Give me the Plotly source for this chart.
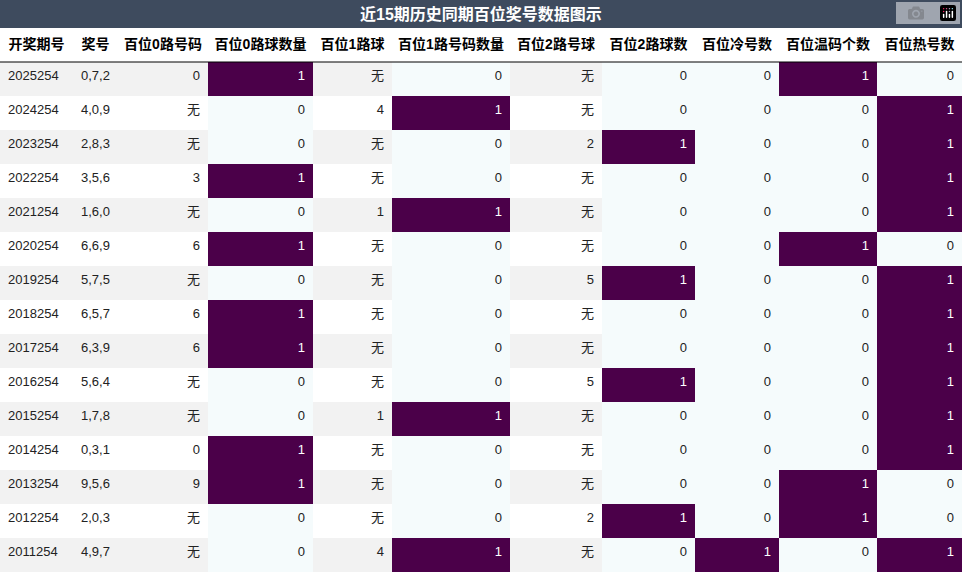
import plotly.graph_objects as go

title = "近15期历史同期百位奖号数据图示"
headers = ["开奖期号","奖号","百位0路号码","百位0路球数量","百位1路球","百位1路号码数量","百位2路号球","百位2路球数","百位冷号数","百位温码个数","百位热号数"]
periods = ["2025254","2024254","2023254","2022254","2021254","2020254","2019254","2018254","2017254","2016254","2015254","2014254","2013254","2012254","2011254"]
numbers = ["0,7,2","4,0,9","2,8,3","3,5,6","1,6,0","6,6,9","5,7,5","6,5,7","6,3,9","5,6,4","1,7,8","0,3,1","9,5,6","2,0,3","4,9,7"]
r0_num = ["0","无","无","3","无","6","无","6","6","无","无","0","9","无","无"]
r0_cnt = [1,0,0,1,0,1,0,1,1,0,0,1,1,0,0]
r1_num = ["无","4","无","无","1","无","无","无","无","无","1","无","无","无","4"]
r1_cnt = [0,1,0,0,1,0,0,0,0,0,1,0,0,0,1]
r2_num = ["无","无","2","无","无","无","5","无","无","5","无","无","无","2","无"]
r2_cnt = [0,0,1,0,0,0,1,0,0,1,0,0,0,1,0]
cold = [0,0,0,0,0,0,0,0,0,0,0,0,0,0,1]
warm = [1,0,0,0,0,1,0,0,0,0,0,0,1,1,0]
hot = [0,1,1,1,1,0,1,1,1,1,1,1,0,0,1]

cols = [periods, numbers, r0_num, r0_cnt, r1_num, r1_cnt, r2_num, r2_cnt, cold, warm, hot]
is_count = [False,False,False,True,False,True,False,True,True,True,True]
widths = [73,45,90,105,79,118,92,93,84,98,85]
PURPLE = "#4b0049"
LIGHT = "#f5fbfc"
stripe = ["#f2f2f2" if i % 2 == 0 else "#ffffff" for i in range(len(periods))]

fills, fcolors = [], []
for c, cnt in zip(cols, is_count):
    if cnt:
        fills.append([PURPLE if v == 1 else LIGHT for v in c])
        fcolors.append(["white" if v == 1 else "#222" for v in c])
    else:
        fills.append(stripe)
        fcolors.append(["#222"] * len(c))

H, W = 574, 962
fig = go.Figure(go.Table(
    columnwidth=widths,
    domain=dict(x=[0, 1], y=[0, 1 - 28 / H]),
    header=dict(values=[f"<b>{h}</b>" for h in headers], height=34, fill_color="white",
                line=dict(width=0, color="white"), align="center",
                font=dict(family="Liberation Sans, Noto Sans CJK SC", size=14, color="black")),
    cells=dict(values=cols, height=34, fill_color=fills,
               line=dict(width=0, color="white"),
               align=["left", "left"] + ["right"] * 9,
               font=dict(family="Liberation Sans, Noto Sans CJK SC", size=13, color=fcolors)),
))
fig.update_layout(
    width=W, height=H, margin=dict(l=0, r=0, t=0, b=0), paper_bgcolor="white",
    shapes=[
        dict(type="rect", xref="paper", yref="paper", x0=0, x1=1, y0=1 - 28 / H, y1=1,
             fillcolor="#3e4b5e", line=dict(width=0), layer="below"),
        dict(type="line", xref="paper", yref="paper", x0=0, x1=1, y0=1 - 62 / H, y1=1 - 62 / H,
             line=dict(color="black", width=1)),
    ],
    annotations=[dict(text=f"<b>{title}</b>", xref="paper", yref="paper", x=0.5, y=1 - 14 / H,
                      yanchor="middle", xanchor="center", showarrow=False,
                      font=dict(family="Liberation Sans, Noto Sans CJK SC", size=16, color="white"))],
)
fig.write_html("out.html", post_script="document.body.style.margin='0';document.body.style.overflow='hidden';")
